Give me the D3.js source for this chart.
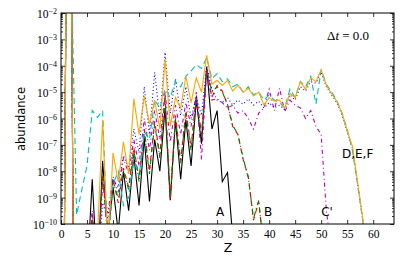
<!DOCTYPE html>
<html><head><meta charset="utf-8">
<script src="https://cdn.jsdelivr.net/npm/d3@7"></script>
<style>body{margin:0;background:#fff}svg{display:block}</style>
</head><body>
<svg id="c" width="407" height="271"></svg>
<script>
// Z (atomic number) index = array position 0..n
const seriesA = [1e-30,1,0.3,1e-30,1e-12,1e-12,5.0e-9,1e-12,2.5e-8,3.2e-11,
  2.5e-9,5.0e-11,1e-8,3.2e-10,4.0e-8,5.0e-10,1.8e-7,7.1e-10,1.6e-7,1e-8,
  2.5e-6,7.9e-10,8.9e-7,5.0e-9,8.9e-7,1.6e-8,5.0e-6,1.1e-7,8.9e-5,4.0e-7,
  2.0e-6,4.0e-9,8.9e-9,3.2e-11];
const seriesB1 = [1e-30,1,0.3,1e-30,1e-12,1e-12,2.5e-10,1e-12,7.9e-9,4.0e-11,
  5.0e-9,6.3e-10,1.3e-8,2.5e-9,7.9e-8,5.0e-9,4.0e-7,1e-8,7.9e-7,4.0e-8,
  7.9e-6,7.9e-10,1.3e-6,2.5e-8,2.0e-6,7.9e-8,7.9e-6,2.5e-7,7.9e-5,6.3e-6,
  1.8e-5,1.1e-5,3.2e-6,5.0e-7,2.5e-7,2.8e-8,6.3e-9,1.4e-10,7.1e-10,1e-11];
const seriesB2 = [1e-30,1,0.3,1e-30,1e-12,1e-12,1.6e-10,1e-12,6.3e-9,2.5e-11,
  4.0e-9,1e-9,1e-8,2.0e-9,6.3e-8,4.0e-9,3.2e-7,7.9e-9,6.3e-7,3.2e-8,
  6.3e-6,1e-9,1e-6,2.0e-8,1.6e-6,6.3e-8,6.3e-6,2.0e-7,7.1e-5,1e-5,
  1.6e-5,1e-5,3.5e-6,5.6e-7,2.5e-7,3.2e-8,5.6e-9,1.6e-10,7.9e-10,1e-11];
const seriesC = [1e-30,1,0.3,1e-30,1e-12,1e-12,3.2e-10,1e-12,4.0e-9,2.5e-10,
  6.3e-9,1.6e-9,3.2e-8,7.9e-9,1.6e-7,1.6e-8,1e-6,6.3e-8,2.0e-6,1.6e-7,
  1e-5,1.3e-7,3.2e-6,2.5e-7,4.0e-6,5.0e-7,1e-5,2.8e-8,6.3e-5,5.0e-6,
  5.6e-6,4.0e-6,2.5e-6,3.2e-6,1.6e-6,2.0e-6,1e-6,4.0e-7,1.6e-6,2.5e-6,
  1.3e-5,2.0e-6,1.4e-5,1.8e-6,5.0e-6,3.2e-6,2.5e-6,1e-6,2.0e-6,5.0e-7,
  2.5e-7,3.2e-10,1e-11];
const seriesD = [1e-30,1,0.3,1e-30,1e-12,1e-12,1e-12,1e-12,6.3e-10,1.6e-10,
  5.0e-9,2.5e-9,4.0e-8,1.3e-8,4.0e-7,5.0e-8,1.6e-5,2.5e-7,5.6e-5,1e-6,
  3.2e-4,1.6e-6,3.2e-5,1.3e-6,1.6e-5,1e-6,6.3e-6,1.3e-6,1e-4,1.3e-5,
  5.0e-6,4.0e-6,6.3e-6,3.2e-6,5.0e-6,3.5e-6,5.6e-6,3.2e-6,4.5e-6,2.5e-6,
  4.0e-6,2.5e-6,3.2e-6,2.2e-6,7.9e-6,5.0e-6,1.6e-5,1.1e-5,2.5e-5,2.2e-5,
  5.6e-5,1.6e-5,7.9e-6,4.0e-6,1.4e-6,3.2e-7,7.9e-8,3.5e-9,1.4e-10,1e-12];
const seriesE = [1e-30,1,0.3,2.2e-10,2.0e-9,1.6e-8,2.0e-6,1.1e-6,2.0e-6,1e-11,
  3.2e-9,1e-8,5.0e-10,1e-9,3.2e-8,6.3e-9,3.2e-7,1.6e-7,5.0e-6,2.5e-6,
  1.3e-5,6.3e-6,2.5e-5,1.6e-5,4.0e-5,6.3e-5,1.1e-4,7.9e-5,2.0e-4,3.2e-5,
  5.0e-5,2.5e-5,3.2e-5,1.6e-5,2.0e-5,1e-5,1.6e-5,7.9e-6,1e-5,5.0e-6,
  7.9e-6,5.0e-6,4.0e-6,2.5e-6,1.3e-5,6.3e-6,2.5e-5,1.6e-5,4.0e-5,3.5e-6,
  7.1e-5,2.0e-5,1e-5,5.0e-6,1.6e-6,4.0e-7,6.3e-8,3.2e-9,1.3e-10,1e-12];
const seriesF = [1e-30,1,0.3,1e-30,1e-12,1e-12,1e-12,3.2e-11,8.9e-7,1e-11,
  5.0e-8,4.0e-9,1.3e-7,7.9e-9,5.6e-6,2.5e-7,7.1e-6,6.3e-7,5.0e-6,4.0e-7,
  1.8e-4,5.0e-7,6.3e-6,2.5e-6,4.0e-5,4.0e-6,3.5e-5,1e-5,2.5e-4,2.0e-5,
  2.8e-5,1.8e-5,2.8e-5,1.1e-5,1.8e-5,1e-5,1.4e-5,7.1e-6,1e-5,3.2e-6,
  6.3e-6,4.5e-6,5.0e-6,2.5e-6,8.9e-6,6.3e-6,2.5e-5,1.3e-5,3.5e-5,2.5e-5,
  7.1e-5,1.8e-5,8.9e-6,4.5e-6,1.6e-6,3.5e-7,8.9e-8,4.0e-9,1.6e-10,1e-12];

const xTicks = [0,5,10,15,20,25,30,35,40,45,50,55,60];
const yExponents = [-10,-9,-8,-7,-6,-5,-4,-3,-2];
const xDomain = [0,64];
const yDomain = [1e-10,1e-2];

const series = [
  {v: seriesA,  color:"#000000", dash:null},
  {v: seriesB1, color:"#ff0000", dash:"5,4"},
  {v: seriesB2, color:"#008000", dash:"5,3,1,3"},
  {v: seriesC,  color:"#bf00bf", dash:"4,3,1,3"},
  {v: seriesD,  color:"#0000ff", dash:"1,2.5"},
  {v: seriesE,  color:"#00bfbf", dash:"6,4"},
  {v: seriesF,  color:"#ffa500", dash:null}
];
const labels = [
  {t:"A", z:29.8, y:2.0e-10},
  {t:"B", z:39.0, y:2.0e-10},
  {t:"C'", z:50.0, y:2.0e-10},
  {t:"D,E,F", z:54.0, y:3.3e-8}
];

const L=61, R=394, T=13, B=224;
const svg = d3.select("#c");
const x = d3.scaleLinear().domain(xDomain).range([L,R]);
const y = d3.scaleLog().domain(yDomain).range([B,T]);

svg.append("defs").append("clipPath").attr("id","clip")
  .append("rect").attr("x",L).attr("y",T).attr("width",R-L).attr("height",B-T);

const line = d3.line().x((d,i)=>x(i)).y(d=>y(d));
const g = svg.append("g").attr("clip-path","url(#clip)");
series.forEach(s=>{
  g.append("path").attr("d", line(s.v)).attr("fill","none")
   .attr("stroke", s.color).attr("stroke-width",1.1)
   .attr("stroke-dasharray", s.dash);
});

const yMajor = yExponents.map(e=>Math.pow(10,e));
const yMinor = [];
yExponents.slice(0,-1).forEach(e=>{for(let k=2;k<10;k++) yMinor.push(k*Math.pow(10,e));});

const serif = "'Liberation Serif', 'DejaVu Serif', serif";
const sans = "'DejaVu Sans', sans-serif";

function styleAxis(sel){
  sel.select(".domain").remove();
  sel.selectAll("line").attr("stroke","#000").attr("stroke-width",0.8);
}
// bottom
const gb = svg.append("g").attr("transform",`translate(0,${B})`)
  .call(d3.axisBottom(x).tickValues(xTicks).tickSizeInner(-4).tickSizeOuter(0).tickPadding(5.5).tickFormat(d3.format("d")));
styleAxis(gb);
gb.selectAll("text").attr("font-family",serif).attr("font-size",11.5).attr("fill","#000");
// top
const gt = svg.append("g").attr("transform",`translate(0,${T})`)
  .call(d3.axisTop(x).tickValues(xTicks).tickSizeInner(-4).tickSizeOuter(0).tickFormat(""));
styleAxis(gt);
// left
const gl = svg.append("g").attr("transform",`translate(${L},0)`)
  .call(d3.axisLeft(y).tickValues(yMajor).tickSizeInner(-4).tickSizeOuter(0).tickPadding(4).tickFormat(""));
styleAxis(gl);
gl.selectAll(".tick text").each(function(d){
  const t = d3.select(this).attr("font-family",serif).attr("font-size",11.5).attr("fill","#000").attr("dy","0.4em");
  t.text("");
  t.append("tspan").text("10");
  t.append("tspan").attr("dy","-0.5em").attr("font-size",8).text("\u2212"+Math.round(-Math.log10(d)));
});
const glm = svg.append("g").attr("transform",`translate(${L},0)`)
  .call(d3.axisLeft(y).tickValues(yMinor).tickSizeInner(-2).tickSizeOuter(0).tickFormat(""));
styleAxis(glm);
// right
const gr = svg.append("g").attr("transform",`translate(${R},0)`)
  .call(d3.axisRight(y).tickValues(yMajor).tickSizeInner(-4).tickSizeOuter(0).tickFormat(""));
styleAxis(gr);
const grm = svg.append("g").attr("transform",`translate(${R},0)`)
  .call(d3.axisRight(y).tickValues(yMinor).tickSizeInner(-2).tickSizeOuter(0).tickFormat(""));
styleAxis(grm);

svg.append("rect").attr("x",L).attr("y",T).attr("width",R-L).attr("height",B-T)
  .attr("fill","none").attr("stroke","#000").attr("stroke-width",1);

svg.append("text").attr("x",228).attr("y",251.5).attr("text-anchor","middle")
  .attr("font-family",sans).attr("font-size",12.5).text("Z");
svg.append("text").attr("transform","translate(25,119) rotate(-90)").attr("text-anchor","middle")
  .attr("font-family",sans).attr("font-size",11.5).text("abundance");

const dt = svg.append("text").attr("x",327).attr("y",40).attr("font-family",serif).attr("font-size",13);
dt.append("tspan").text("\u0394");
dt.append("tspan").attr("font-style","italic").text("t");
dt.append("tspan").text(" = 0.0");

labels.forEach(l=>{
  svg.append("text").attr("x",x(l.z)).attr("y",y(l.y)).attr("font-family",sans)
    .attr("font-size",12).text(l.t);
});
</script>
</body></html>
